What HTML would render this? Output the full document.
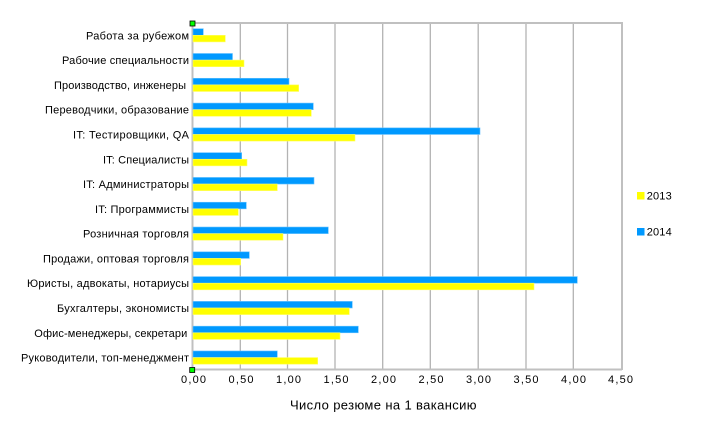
<!DOCTYPE html>
<html><head><meta charset="utf-8"><style>
html,body{margin:0;padding:0;background:#fff;}
svg{display:block;}
text{font-family:"Liberation Sans",Arial,sans-serif;fill:#000;}
</style></head><body>
<svg width="701" height="423" viewBox="0 0 701 423" xmlns="http://www.w3.org/2000/svg">
<rect width="701" height="423" fill="#fff"/>
<!-- gridlines -->
<g stroke="#b3b3b3" stroke-width="1.3">
<line x1="240.3" y1="23" x2="240.3" y2="369"/>
<line x1="287.5" y1="23" x2="287.5" y2="369"/>
<line x1="335" y1="23" x2="335" y2="369"/>
<line x1="382.7" y1="23" x2="382.7" y2="369"/>
<line x1="430.3" y1="23" x2="430.3" y2="369"/>
<line x1="478.2" y1="23" x2="478.2" y2="369"/>
<line x1="526" y1="23" x2="526" y2="369"/>
<line x1="573.3" y1="23" x2="573.3" y2="369"/>
</g>
<!-- border -->
<g stroke="#c0c0c0" stroke-width="2" fill="none">
<line x1="192" y1="23" x2="622" y2="23"/>
<line x1="622" y1="22" x2="622" y2="370"/>
<line x1="192" y1="369.5" x2="622" y2="369.5"/>
<line x1="192.5" y1="22" x2="192.5" y2="370"/>
</g>
<!-- bars -->
<g stroke-width="0.6">
<rect x="193" y="28.7" width="10.3" height="6.6" fill="#0099ff" stroke="#66c2ff"/>
<rect x="193" y="35.3" width="32.3" height="6.6" fill="#ffff00" stroke="#ffff66"/>
<rect x="193" y="53.49" width="39.5" height="6.6" fill="#0099ff" stroke="#66c2ff"/>
<rect x="193" y="60.09" width="51" height="6.6" fill="#ffff00" stroke="#ffff66"/>
<rect x="193" y="78.28" width="96" height="6.6" fill="#0099ff" stroke="#66c2ff"/>
<rect x="193" y="84.88" width="105.7" height="6.6" fill="#ffff00" stroke="#ffff66"/>
<rect x="193" y="103.07" width="120.3" height="6.6" fill="#0099ff" stroke="#66c2ff"/>
<rect x="193" y="109.67" width="118.3" height="6.6" fill="#ffff00" stroke="#ffff66"/>
<rect x="193" y="127.86" width="287" height="6.6" fill="#0099ff" stroke="#66c2ff"/>
<rect x="193" y="134.46" width="162" height="6.6" fill="#ffff00" stroke="#ffff66"/>
<rect x="193" y="152.65" width="48.7" height="6.6" fill="#0099ff" stroke="#66c2ff"/>
<rect x="193" y="159.25" width="54" height="6.6" fill="#ffff00" stroke="#ffff66"/>
<rect x="193" y="177.44" width="121" height="6.6" fill="#0099ff" stroke="#66c2ff"/>
<rect x="193" y="184.04" width="84.3" height="6.6" fill="#ffff00" stroke="#ffff66"/>
<rect x="193" y="202.23" width="53.3" height="6.6" fill="#0099ff" stroke="#66c2ff"/>
<rect x="193" y="208.83" width="45.3" height="6.6" fill="#ffff00" stroke="#ffff66"/>
<rect x="193" y="227.02" width="135.3" height="6.6" fill="#0099ff" stroke="#66c2ff"/>
<rect x="193" y="233.62" width="90" height="6.6" fill="#ffff00" stroke="#ffff66"/>
<rect x="193" y="251.81" width="56.3" height="6.6" fill="#0099ff" stroke="#66c2ff"/>
<rect x="193" y="258.41" width="47.7" height="6.6" fill="#ffff00" stroke="#ffff66"/>
<rect x="193" y="276.6" width="384.3" height="6.6" fill="#0099ff" stroke="#66c2ff"/>
<rect x="193" y="283.2" width="341" height="6.6" fill="#ffff00" stroke="#ffff66"/>
<rect x="193" y="301.39" width="159.3" height="6.6" fill="#0099ff" stroke="#66c2ff"/>
<rect x="193" y="307.99" width="156.3" height="6.6" fill="#ffff00" stroke="#ffff66"/>
<rect x="193" y="326.18" width="165.3" height="6.6" fill="#0099ff" stroke="#66c2ff"/>
<rect x="193" y="332.78" width="147" height="6.6" fill="#ffff00" stroke="#ffff66"/>
<rect x="193" y="350.97" width="84.3" height="6.6" fill="#0099ff" stroke="#66c2ff"/>
<rect x="193" y="357.57" width="124.7" height="6.6" fill="#ffff00" stroke="#ffff66"/>
</g>
<!-- category labels -->
<g font-size="11" text-anchor="end" lengthAdjust="spacing">
<text x="189" y="39.3" textLength="103" lengthAdjust="spacing">Работа за рубежом</text>
<text x="189" y="64.1" textLength="127" lengthAdjust="spacing">Рабочие специальности</text>
<text x="186" y="88.9" textLength="132" lengthAdjust="spacing">Производство, инженеры</text>
<text x="189" y="113.7" textLength="144" lengthAdjust="spacing">Переводчики, образование</text>
<text x="189" y="138.5" textLength="116" lengthAdjust="spacing">IT: Тестировщики, QA</text>
<text x="189" y="163.3" textLength="86" lengthAdjust="spacing">IT: Специалисты</text>
<text x="189" y="188" textLength="106" lengthAdjust="spacing">IT: Администраторы</text>
<text x="189" y="212.8" textLength="94" lengthAdjust="spacing">IT: Программисты</text>
<text x="189" y="237.6" textLength="106" lengthAdjust="spacing">Розничная торговля</text>
<text x="189" y="262.4" textLength="146" lengthAdjust="spacing">Продажи, оптовая торговля</text>
<text x="189" y="287.2" textLength="162" lengthAdjust="spacing">Юристы, адвокаты, нотариусы</text>
<text x="189" y="312" textLength="132" lengthAdjust="spacing">Бухгалтеры, экономисты</text>
<text x="187.3" y="336.8" textLength="153" lengthAdjust="spacing">Офис-менеджеры, секретари</text>
<text x="189" y="361.6" textLength="168" lengthAdjust="spacing">Руководители, топ-менеджмент</text>
</g>
<!-- tick labels -->
<g font-size="11" text-anchor="middle">
<text x="193.5" y="383" textLength="25" lengthAdjust="spacing">0,00</text>
<text x="241" y="383" textLength="25" lengthAdjust="spacing">0,50</text>
<text x="288.5" y="383" textLength="25" lengthAdjust="spacing">1,00</text>
<text x="336" y="383" textLength="25" lengthAdjust="spacing">1,50</text>
<text x="383.5" y="383" textLength="25" lengthAdjust="spacing">2,00</text>
<text x="431" y="383" textLength="25" lengthAdjust="spacing">2,50</text>
<text x="478.5" y="383" textLength="25" lengthAdjust="spacing">3,00</text>
<text x="526" y="383" textLength="25" lengthAdjust="spacing">3,50</text>
<text x="573.5" y="383" textLength="25" lengthAdjust="spacing">4,00</text>
<text x="620.5" y="383" textLength="25" lengthAdjust="spacing">4,50</text>
</g>
<!-- axis title -->
<text x="290" y="409.5" font-size="13" textLength="186.5" lengthAdjust="spacing">Число резюме на 1 вакансию</text>
<!-- legend -->
<rect x="637" y="192" width="7.5" height="7.5" fill="#ffff00"/>
<text x="646.7" y="199.5" font-size="11" textLength="25" lengthAdjust="spacing">2013</text>
<rect x="637" y="228" width="7.5" height="7.5" fill="#0099ff"/>
<text x="646.7" y="235.5" font-size="11" textLength="25" lengthAdjust="spacing">2014</text>
<!-- green handles -->
<rect x="190" y="21" width="5" height="5" fill="#00ff00" stroke="#000" stroke-width="0.8"/>
<rect x="189.7" y="367.5" width="5" height="5" fill="#00ff00" stroke="#000" stroke-width="0.8"/>
</svg>
</body></html>
